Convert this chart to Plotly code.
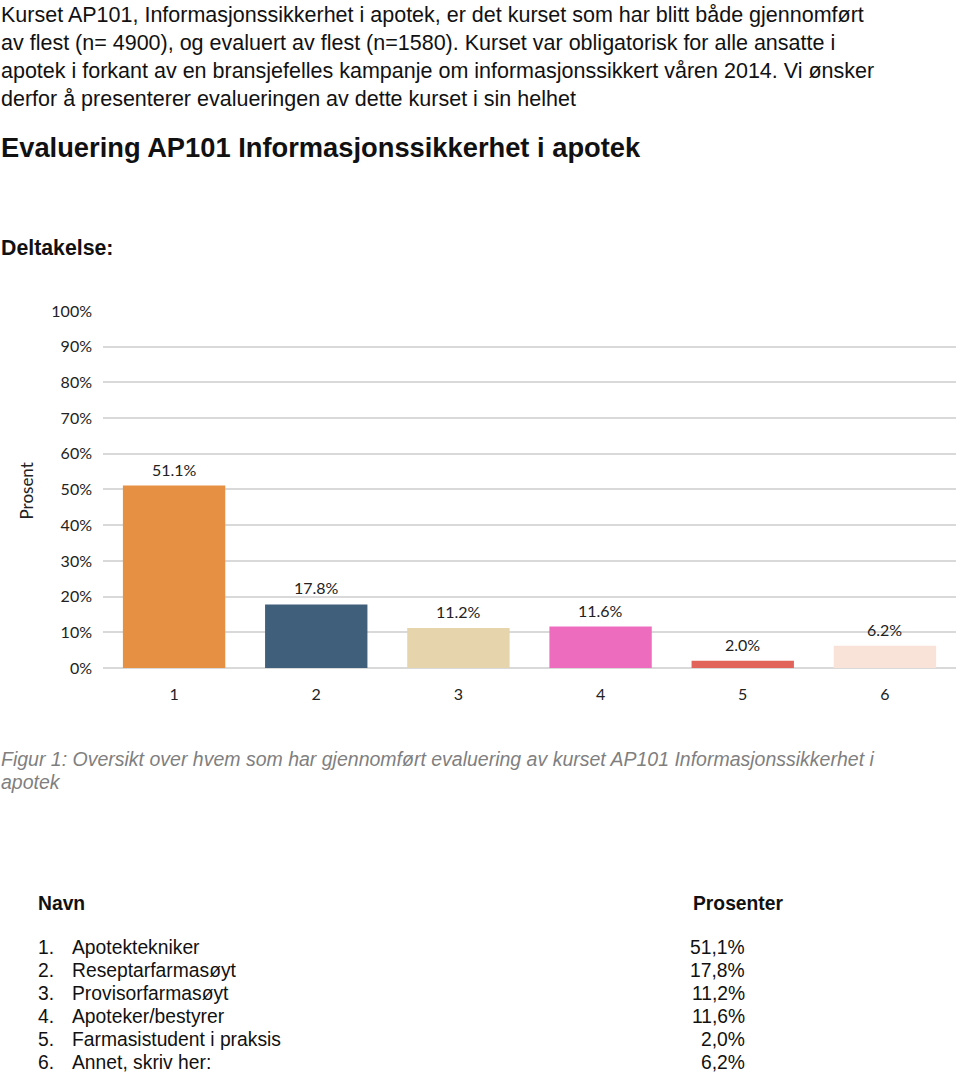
import plotly.graph_objects as go

categories = ["1", "2", "3", "4", "5", "6"]
values = [51.1, 17.8, 11.2, 11.6, 2.0, 6.2]
names = ["Apotektekniker", "Reseptarfarmasøyt", "Provisorfarmasøyt",
         "Apoteker/bestyrer", "Farmasistudent i praksis", "Annet, skriv her:"]
colors = ["#E69044", "#3F5F7A", "#E5D4AC", "#EE6CBD", "#E2635A", "#F9E2D8"]
y_ticks = [0, 10, 20, 30, 40, 50, 60, 70, 80, 90, 100]

W, H = 960, 1075
CAL = "Lato, Carlito, Open Sans, sans-serif"
ARI = "Liberation Sans, Arial, sans-serif"

def Y(t):
    # target pixel row -> layout row (compensates the capture's vertical fit)
    return (t - 7.2) / 0.985

def px(t):
    return 1 - Y(t) / H

fig = go.Figure()
fig.add_trace(go.Bar(
    x=categories, y=values,
    marker=dict(color=colors, line=dict(width=0)),
    width=0.72,
    hoverinfo="skip",
))

for i, v in enumerate(values):
    fig.add_annotation(x=i, y=v, xref="x", yref="y", text=f"{v:.1f}%",
                       showarrow=False, yanchor="bottom", yshift=5,
                       font=dict(family=CAL, size=16, color="#222"))

fig.update_layout(
    width=W, height=H,
    margin=dict(l=0, r=0, t=0, b=0),
    paper_bgcolor="white", plot_bgcolor="white",
    showlegend=False,
    xaxis=dict(
        domain=[103 / W, 956 / W],
        type="category",
        range=[-0.5, 5.5],
        showgrid=False, showline=False, zeroline=False,
        ticks="", ticklabelstandoff=15,
        tickfont=dict(family=CAL, size=16, color="#222"),
    ),
    yaxis=dict(
        domain=[px(667), px(309)],
        range=[0, 100],
        tickvals=y_ticks,
        ticktext=[f"{t}%" for t in y_ticks],
        showgrid=True, gridcolor="#D9D9D9", gridwidth=1.5,
        zeroline=True, zerolinecolor="#D9D9D9", zerolinewidth=1.5,
        showline=False, ticks="",
        ticklabelstandoff=10,
        tickfont=dict(family=CAL, size=16, color="#222"),
    ),
)

def txt(x, y, s, size, bold=False, italic=False, color="#111", family=ARI, xanchor="left"):
    if bold:
        s = f"<b>{s}</b>"
    if italic:
        s = f"<i>{s}</i>"
    fig.add_annotation(x=x / W, y=px(y), xref="paper", yref="paper", text=s,
                       showarrow=False, xanchor=xanchor, yanchor="middle",
                       font=dict(family=family, size=size, color=color), align="left",
                       borderpad=0)

intro = [
    "Kurset AP101, Informasjonssikkerhet i apotek, er det kurset som har blitt både gjennomført",
    "av flest (n= 4900), og evaluert av flest (n=1580). Kurset var obligatorisk for alle ansatte i",
    "apotek i forkant av en bransjefelles kampanje om informasjonssikkert våren 2014. Vi ønsker",
    "derfor å presenterer evalueringen av dette kurset i sin helhet",
]
for i, (line, yy) in enumerate(zip(intro, [12, 40, 68, 96])):
    txt(0, yy, line, 21.5)

txt(0, 145, "Evaluering AP101 Informasjonssikkerhet i apotek", 27.3, bold=True)
txt(0, 246, "Deltakelse:", 21.3, bold=True)

fig.add_annotation(x=26 / W, y=px(490), xref="paper", yref="paper", text="Prosent",
                   textangle=-90, showarrow=False, xanchor="center", yanchor="middle",
                   font=dict(family=CAL, size=17, color="#222"))

txt(0, 758, "Figur 1: Oversikt over hvem som har gjennomført evaluering av kurset AP101 Informasjonssikkerhet i", 19.5, italic=True, color="#7F7F7F")
txt(0, 781, "apotek", 19.5, italic=True, color="#7F7F7F")

txt(37, 903, "Navn", 19.3, bold=True)
txt(692, 903, "Prosenter", 19.3, bold=True)
for i, (n, v) in enumerate(zip(names, values)):
    y = 947 + i * 23.2
    txt(37, y, f"{i + 1}.", 19.3)
    txt(71, y, n, 19.3)
    txt(746, y, f"{v:.1f}%".replace(".", ","), 19.3, xanchor="right")

fig.write_html("out.html", config={"displayModeBar": False},
               post_script="document.body.style.margin='0';")
